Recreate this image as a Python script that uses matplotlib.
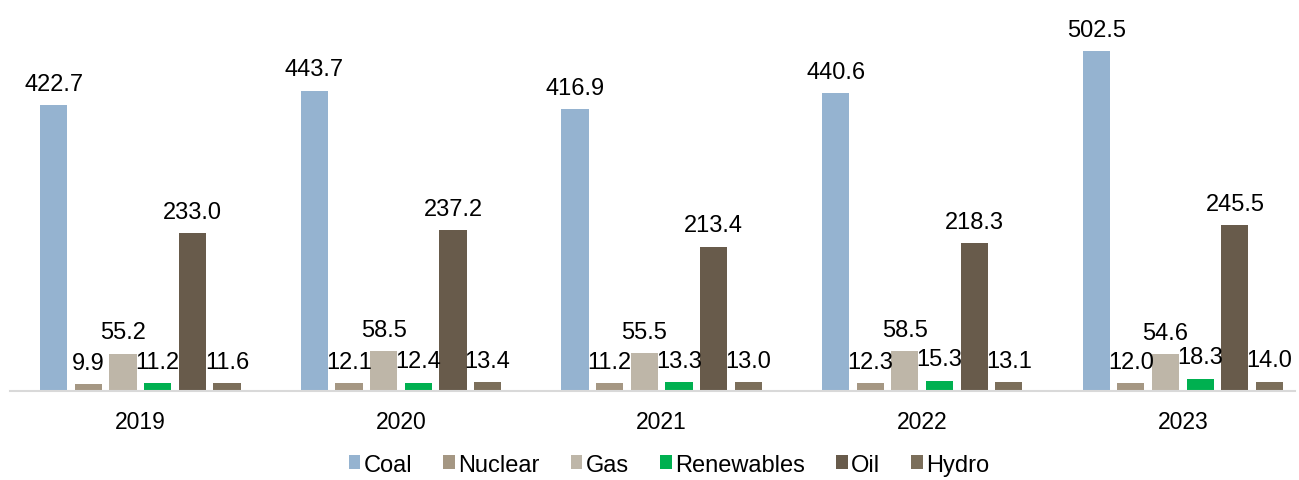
import matplotlib
matplotlib.use('Agg')
import matplotlib.pyplot as plt
import numpy as np

plt.rcParams['font.family'] = ['Liberation Sans', 'DejaVu Sans']

years = ['2019', '2020', '2021', '2022', '2023']
sources = ['Coal', 'Nuclear', 'Gas', 'Renewables', 'Oil', 'Hydro']
coal = [422.7, 443.7, 416.9, 440.6, 502.5]
nuclear = [9.9, 12.1, 11.2, 12.3, 12.0]
gas = [55.2, 58.5, 55.5, 58.5, 54.6]
renewables = [11.2, 12.4, 13.3, 15.3, 18.3]
oil = [233.0, 237.2, 213.4, 218.3, 245.5]
hydro = [11.6, 13.4, 13.0, 13.1, 14.0]
colors = ['#95B3D0', '#A59783', '#BEB6A8', '#00B050', '#685B4B', '#7B6E5A']

series = [coal, nuclear, gas, renewables, oil, hydro]

fig = plt.figure(figsize=(12.99, 4.81), dpi=100)
ax = fig.add_axes([10/1299, 1 - 392/481, 1285/1299, 392/481])

x = np.arange(len(years))
pitch = 0.133
width = 0.104
for i, (vals, name) in enumerate(zip(series, sources)):
    pos = x + (i - 2.5) * pitch
    ax.bar(pos, vals, width, color=colors[i], label=name)
    for p, v in zip(pos, vals):
        ax.text(p, v + 15, '%.1f' % v, ha='center', va='bottom', fontsize=17)

ax.set_xlim(-0.5, 4.43)
ax.set_ylim(0, 579)
ax.set_yticks([])
ax.set_xticks(x)
ax.set_xticklabels(years, fontsize=16.5)
ax.tick_params(axis='x', length=0, pad=14)
for s in ['top', 'right', 'left']:
    ax.spines[s].set_visible(False)
ax.spines['bottom'].set_color('#D9D9D9')
ax.spines['bottom'].set_linewidth(1.5)

fig.legend(loc='lower center', bbox_to_anchor=(0.515, -0.035), ncol=6, frameon=False,
           fontsize=17, handlelength=0.5, handleheight=0.5, handletextpad=0.15,
           columnspacing=1.3)

fig.savefig('out.png', dpi=100)
